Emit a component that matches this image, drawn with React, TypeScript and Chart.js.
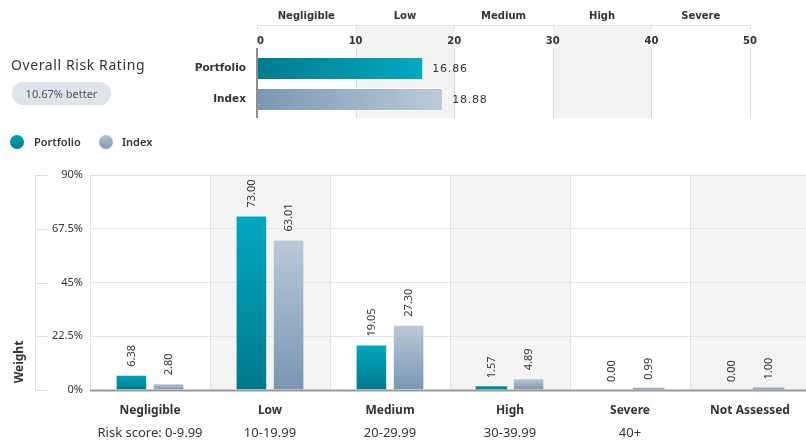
import React, { useEffect, useRef } from "react";
import { Chart, registerables } from "chart.js";

Chart.register(...registerables);

// ---- Top chart data ----
const TOP_CATEGORIES = ["Portfolio", "Index"];
const TOP_VALUES = [16.86, 18.88];
const BAND_LABELS = ["Negligible", "Low", "Medium", "High", "Severe"];
const BAND_EDGES = [0, 10, 20, 30, 40, 50];
const SHADED_BANDS = [1, 3];

// ---- Bottom chart data ----
const CATEGORIES = ["Negligible", "Low", "Medium", "High", "Severe", "Not Assessed"];
const RISK_SCORES = ["Risk score: 0-9.99", "10-19.99", "20-29.99", "30-39.99", "40+", ""];
const PORTFOLIO = [6.38, 73.0, 19.05, 1.57, 0.0, 0.0];
const INDEX = [2.8, 63.01, 27.3, 4.89, 0.99, 1.0];
const Y_TICKS = [0, 22.5, 45, 67.5, 90];
const SHADED_COLUMNS = [1, 3, 5];

const TOP_FONT = "'DejaVu Sans', sans-serif";
const FONT = "'Noto Sans', sans-serif";

function TopChart() {
  const ref = useRef<HTMLCanvasElement>(null);
  useEffect(() => {
    const canvas = ref.current!;
    const bandPlugin = {
      id: "bands",
      beforeDraw(chart: any) {
        const { ctx, chartArea, scales } = chart;
        const xs = scales.x;
        const top = 25;
        const bottom = chartArea.bottom + 3;
        ctx.save();
        ctx.fillStyle = "#f3f3f3";
        SHADED_BANDS.forEach((b) => {
          const x0 = xs.getPixelForValue(BAND_EDGES[b]);
          const x1 = xs.getPixelForValue(BAND_EDGES[b + 1]);
          ctx.fillRect(x0, top, x1 - x0, bottom - top);
        });
        ctx.strokeStyle = "#e2e2e2";
        ctx.lineWidth = 1;
        ctx.beginPath();
        ctx.moveTo(xs.getPixelForValue(0), top + 0.5);
        ctx.lineTo(xs.getPixelForValue(50), top + 0.5);
        BAND_EDGES.forEach((e) => {
          const x = Math.round(xs.getPixelForValue(e)) + 0.5;
          ctx.moveTo(x, top - 1);
          ctx.lineTo(x, top + 4);
        });
        ctx.stroke();
        ctx.fillStyle = "#333";
        ctx.font = `bold 10px ${TOP_FONT}`;
        ctx.textAlign = "center";
        ctx.textBaseline = "middle";
        BAND_LABELS.forEach((l, i) => {
          const x = (xs.getPixelForValue(BAND_EDGES[i]) + xs.getPixelForValue(BAND_EDGES[i + 1])) / 2;
          ctx.fillText(l, x, 16);
        });
        BAND_EDGES.forEach((v, i) => {
          const x = xs.getPixelForValue(v);
          ctx.textAlign = i === 0 ? "left" : "center";
          ctx.fillText(String(v), x, 41);
        });
        ctx.strokeStyle = "#d9d9d9";
        ctx.beginPath();
        BAND_EDGES.slice(1).forEach((e) => {
          const x = Math.round(xs.getPixelForValue(e)) + 0.5;
          ctx.moveTo(x, 48);
          ctx.lineTo(x, bottom);
        });
        ctx.stroke();
        ctx.restore();
      },
      afterDatasetsDraw(chart: any) {
        const { ctx, scales } = chart;
        const xs = scales.x;
        const meta = chart.getDatasetMeta(0);
        ctx.save();
        ctx.strokeStyle = "#8f8f8f";
        ctx.lineWidth = 2;
        ctx.beginPath();
        const x0 = xs.getPixelForValue(0);
        ctx.moveTo(x0, 48);
        ctx.lineTo(x0, chart.chartArea.bottom + 3);
        ctx.stroke();
        ctx.fillStyle = "#333";
        ctx.font = `11px ${TOP_FONT}`;
        (ctx as any).letterSpacing = "0.8px";
        ctx.textAlign = "left";
        ctx.textBaseline = "middle";
        meta.data.forEach((bar: any, i: number) => {
          ctx.fillText(TOP_VALUES[i].toFixed(2), bar.x + 9, bar.y + 1);
        });
        ctx.restore();
      },
    };

    const chart = new Chart(canvas, {
      type: "bar",
      data: {
        labels: TOP_CATEGORIES,
        datasets: [
          {
            data: TOP_VALUES,
            backgroundColor: (c: any) => {
              const ch = c.chart;
              const stops =
                c.dataIndex === 0 ? ["#007b8c", "#00aac2"] : ["#7997b4", "#bccbd9"];
              if (!ch.chartArea || c.type !== "data") return stops[0];
              const x0 = ch.scales.x.getPixelForValue(0);
              const x1 = ch.scales.x.getPixelForValue(c.raw);
              const g = ch.ctx.createLinearGradient(x0, 0, x1, 0);
              g.addColorStop(0, stops[0]);
              g.addColorStop(1, stops[1]);
              return g;
            },
            borderColor: "rgba(255,255,255,0.6)",
            borderWidth: 1,
            borderSkipped: "left",
            categoryPercentage: 1,
            barPercentage: 0.74,
          },
        ],
      },
      options: {
        indexAxis: "y",
        animation: false,
        responsive: false,
        events: [],
        layout: { padding: { left: 0, top: 53, right: 56, bottom: 10 } },
        plugins: { legend: { display: false }, tooltip: { enabled: false } },
        scales: {
          x: {
            position: "top",
            min: 0,
            max: 50,
            ticks: { display: false, stepSize: 10 },
            grid: { display: false, drawTicks: false },
            border: { display: false },
            afterFit: (s: any) => {
              s.height = 0;
              s.paddingLeft = 0;
              s.paddingRight = 0;
            },
          },
          y: {
            ticks: {
              color: "#333",
              font: { family: TOP_FONT, size: 10.5, weight: "bold" },
              padding: 11,
            },
            grid: { display: false, drawTicks: false },
            border: { display: false },
            afterFit: (s: any) => {
              s.width = 257;
              s.paddingTop = 0;
              s.paddingBottom = 0;
            },
          },
        },
      },
      plugins: [bandPlugin],
    } as any);
    return () => chart.destroy();
  }, []);
  return (
    <canvas
      ref={ref}
      width={806}
      height={125}
      style={{ position: "absolute", left: 0, top: 0, width: 806, height: 125 }}
    />
  );
}

function BottomChart() {
  const ref = useRef<HTMLCanvasElement>(null);
  useEffect(() => {
    const canvas = ref.current!;
    const gradient = (stops: string[]) => (c: any) => {
      const ch = c.chart;
      if (!ch.chartArea || c.type !== "data") return stops[1];
      const y0 = ch.scales.y.getPixelForValue(0);
      const y1 = ch.scales.y.getPixelForValue(c.raw);
      if (Math.abs(y0 - y1) < 4) return stops[2];
      const g = ch.ctx.createLinearGradient(0, y1, 0, y0);
      g.addColorStop(0, stops[0]);
      g.addColorStop(1, stops[1]);
      return g;
    };

    const plugin = {
      id: "decor",
      beforeDraw(chart: any) {
        const { ctx, chartArea, scales } = chart;
        const xs = scales.x;
        ctx.save();
        ctx.fillStyle = "#f4f4f4";
        SHADED_COLUMNS.forEach((i) => {
          const x0 = xs.getPixelForValue(i - 0.5);
          const x1 = xs.getPixelForValue(i + 0.5);
          ctx.fillRect(x0, chartArea.top, x1 - x0, chartArea.bottom - chartArea.top);
        });
        ctx.restore();
      },
      afterDatasetsDraw(chart: any) {
        const { ctx, chartArea, scales } = chart;
        const xs = scales.x;
        const ys = scales.y;
        ctx.save();
        ctx.strokeStyle = "#9a9a9a";
        ctx.lineWidth = 2;
        ctx.beginPath();
        ctx.moveTo(chartArea.left, chartArea.bottom + 0.5);
        ctx.lineTo(chartArea.right, chartArea.bottom + 0.5);
        ctx.stroke();
        ctx.strokeStyle = "#e0e0e0";
        ctx.lineWidth = 1;
        ctx.beginPath();
        ctx.moveTo(35.5, ys.getPixelForValue(90));
        ctx.lineTo(35.5, ys.getPixelForValue(0));
        Y_TICKS.forEach((v) => {
          const y = Math.round(ys.getPixelForValue(v)) + 0.5;
          ctx.moveTo(35, y);
          ctx.lineTo(48, y);
        });
        ctx.stroke();
        ctx.fillStyle = "#333";
        ctx.font = `bold 12px ${FONT}`;
        ctx.textAlign = "center";
        ctx.textBaseline = "middle";
        ctx.save();
        ctx.translate(20, chartArea.bottom - 28);
        ctx.rotate(-Math.PI / 2);
        ctx.fillText("Weight", 0, 0);
        ctx.restore();
        CATEGORIES.forEach((c, i) => {
          const x = xs.getPixelForValue(i);
          ctx.font = `bold 12px ${FONT}`;
          ctx.fillText(c, x, chartArea.bottom + 21);
          ctx.font = `13px ${FONT}`;
          ctx.fillText(RISK_SCORES[i], x, chartArea.bottom + 43);
        });
        ctx.font = `11px ${FONT}`;
        ctx.textAlign = "left";
        ctx.textBaseline = "middle";
        [PORTFOLIO, INDEX].forEach((vals, d) => {
          const meta = chart.getDatasetMeta(d);
          meta.data.forEach((bar: any, i: number) => {
            ctx.save();
            ctx.translate(bar.x, Math.min(bar.y, bar.base) - 8);
            ctx.rotate(-Math.PI / 2);
            ctx.fillText(vals[i].toFixed(2), 0, 0);
            ctx.restore();
          });
        });
        ctx.restore();
      },
    };

    const chart = new Chart(canvas, {
      type: "bar",
      data: {
        labels: CATEGORIES,
        datasets: [
          {
            label: "Portfolio",
            data: PORTFOLIO,
            backgroundColor: gradient(["#00a8c0", "#00798a", "#008a9c"]),
            borderColor: "rgba(255,255,255,0.35)",
            borderWidth: (c: any) => (Math.abs(c.raw) < 2 ? 0 : 1),
            categoryPercentage: 0.62,
            barPercentage: 0.85,
          },
          {
            label: "Index",
            data: INDEX,
            backgroundColor: gradient(["#bacad9", "#7896b3", "#8ea7c2"]),
            borderColor: "rgba(255,255,255,0.35)",
            borderWidth: (c: any) => (Math.abs(c.raw) < 2 ? 0 : 1),
            categoryPercentage: 0.62,
            barPercentage: 0.85,
          },
        ],
      },
      options: {
        animation: false,
        responsive: false,
        events: [],
        layout: { padding: { left: 0, top: 15, right: 2, bottom: 51 } },
        plugins: { legend: { display: false }, tooltip: { enabled: false } },
        scales: {
          x: {
            offset: true,
            ticks: { display: false },
            grid: { display: true, offset: true, color: "#e2e2e2", drawTicks: false },
            border: { display: false },
            afterFit: (s: any) => {
              s.height = 0;
              s.paddingLeft = 0;
              s.paddingRight = 0;
            },
          },
          y: {
            min: 0,
            max: 90,
            afterBuildTicks: (s: any) => {
              s.ticks = Y_TICKS.map((v) => ({ value: v }));
            },
            ticks: {
              color: "#333",
              font: { family: FONT, size: 11 },
              padding: 7,
              callback: (v: any) => `${v}%`,
            },
            grid: { color: "#e4e4e4", drawTicks: false },
            border: { display: false },
            afterFit: (s: any) => {
              s.width = 90;
              s.paddingTop = 0;
              s.paddingBottom = 0;
            },
          },
        },
      },
      plugins: [plugin],
    } as any);
    return () => chart.destroy();
  }, []);
  return (
    <canvas
      ref={ref}
      width={812}
      height={281}
      style={{ position: "absolute", left: 0, top: 160, width: 812, height: 281 }}
    />
  );
}

export default function App() {
  useEffect(() => {
    document.body.style.margin = "0";
  }, []);
  const dot = (left: number, bg: string) => (
    <div
      style={{
        position: "absolute",
        left,
        top: 135,
        width: 14,
        height: 14,
        borderRadius: 7,
        background: bg,
      }}
    />
  );
  const legendText = (left: number, text: string) => (
    <div
      style={{
        position: "absolute",
        left,
        top: 134,
        height: 16,
        lineHeight: "16px",
        fontSize: 11,
        fontWeight: 600,
        color: "#333",
        fontFamily: FONT,
      }}
    >
      {text}
    </div>
  );
  return (
    <div
      style={{
        position: "absolute",
        left: 0,
        top: 0,
        width: 806,
        height: 441,
        overflow: "hidden",
        background: "#fff",
        fontFamily: FONT,
      }}
    >
      <TopChart />
      <div
        style={{
          position: "absolute",
          left: 11,
          top: 55,
          height: 20,
          lineHeight: "20px",
          fontSize: 14,
          letterSpacing: 0.6,
          color: "#333",
          whiteSpace: "nowrap",
        }}
      >
        Overall Risk Rating
      </div>
      <div
        style={{
          position: "absolute",
          left: 12,
          top: 82,
          width: 99,
          height: 23,
          borderRadius: 12,
          background: "#dde4ec",
          color: "#555",
          fontSize: 11,
          lineHeight: "23px",
          textAlign: "center",
          whiteSpace: "nowrap",
        }}
      >
        10.67% better
      </div>
      {dot(10, "linear-gradient(180deg, #00a4bb, #007c8c)")}
      {legendText(34, "Portfolio")}
      {dot(99, "linear-gradient(180deg, #b3c4d5, #7f9ab6)")}
      {legendText(122, "Index")}
      <BottomChart />
    </div>
  );
}
